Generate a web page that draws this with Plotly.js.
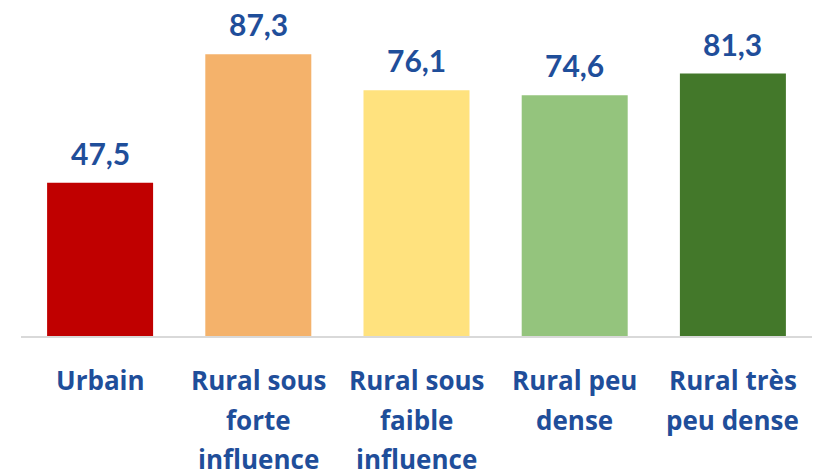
<!DOCTYPE html>
<html>
<head>
<meta charset="utf-8">
<script src="https://cdn.plot.ly/plotly-3.0.1.min.js"></script>
<style>html,body{margin:0;padding:0;background:#fff}#chart{width:825px;height:473px}</style>
</head>
<body>
<div id="chart"></div>
<script>
const categories = ["Urbain", "Rural sous forte influence", "Rural sous faible influence", "Rural peu dense", "Rural très peu dense"];
const labelLines = [["Urbain"], ["Rural sous", "forte", "influence"], ["Rural sous", "faible", "influence"], ["Rural peu", "dense"], ["Rural très", "peu dense"]];
const values = [47.5, 87.3, 76.1, 74.6, 81.3];
const colors = ["#C00000", "#F4B26B", "#FFE27E", "#94C47D", "#43782A"];

const textColor = "#1F4E9A";
const valueFont = "Lato, 'Open Sans', sans-serif";
const catFont = "'Open Sans', Lato, sans-serif";

const annotations = [];
values.forEach((v, i) => {
  annotations.push({
    x: categories[i], y: v, xref: "x", yref: "y",
    text: "<b>" + v.toFixed(1).replace(".", ",") + "</b>",
    showarrow: false, yanchor: "bottom", yshift: 10,
    font: {family: valueFont, size: 30, color: textColor}
  });
});
labelLines.forEach((lines, i) => {
  lines.forEach((ln, j) => {
    annotations.push({
      x: categories[i], y: 0, xref: "x", yref: "paper",
      text: "<b>" + ln + "</b>",
      showarrow: false, yanchor: "middle", yshift: -44 - 39.5 * j,
      font: {family: catFont, size: 26, color: textColor}
    });
  });
});

Plotly.newPlot("chart", [{
  type: "bar",
  x: categories,
  y: values,
  marker: {color: colors},
  hoverinfo: "none"
}], {
  width: 825, height: 473,
  margin: {l: 21, r: 13, t: 0, b: 137},
  paper_bgcolor: "#fff", plot_bgcolor: "#fff",
  bargap: 0.33,
  showlegend: false,
  xaxis: {showticklabels: false, showline: true, linecolor: "#D9D9D9", linewidth: 2, ticks: "", showgrid: false, zeroline: false, fixedrange: true},
  yaxis: {range: [0, 104.1], visible: false, showgrid: false, zeroline: false, fixedrange: true},
  annotations: annotations
}, {displayModeBar: false, staticPlot: true});
</script>
</body>
</html>
